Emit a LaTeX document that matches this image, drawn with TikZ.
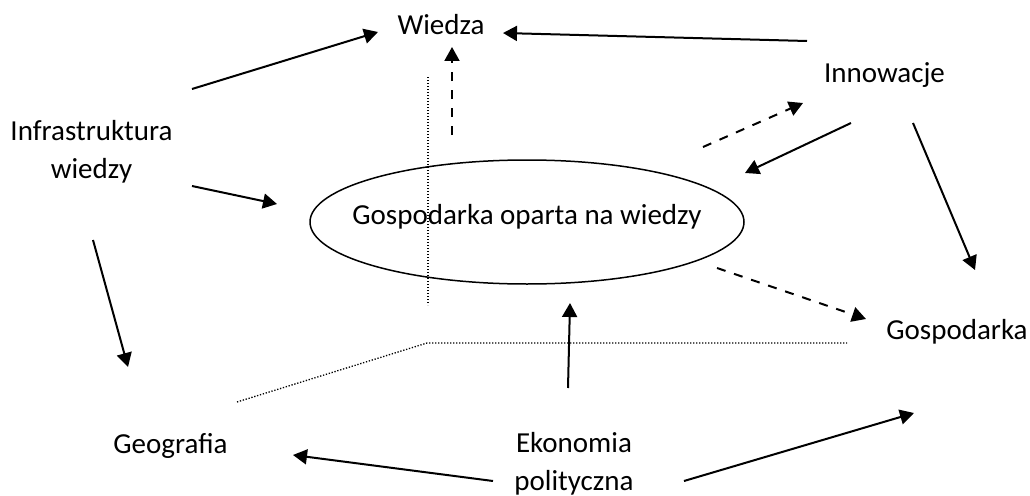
\documentclass[tikz,border=0pt]{standalone}
\usepackage{fontspec}
\setmainfont{Carlito}
\usetikzlibrary{arrows.meta,shapes.geometric}
\begin{document}
\begin{tikzpicture}[x=1pt,y=-1pt,
  lab/.style={font=\fontsize{29}{38}\selectfont, inner sep=0pt, anchor=base, align=center},
  solidarrow/.style={line width=2pt, -{Triangle[length=14pt,width=15pt]}},
  dasharrow/.style={line width=2pt, dash pattern=on 9pt off 9pt, -{Triangle[length=14pt,width=15pt]}},
  dotline/.style={line width=1.3pt, dash pattern=on 1.3pt off 1.7pt},
  ellipsebox/.style={draw, line width=1.5pt, ellipse, minimum width=434pt, minimum height=124pt, inner sep=0pt}]
\useasboundingbox (0,0) rectangle (1030,495);
\fill[white] (0,0) rectangle (1030,495);

% nodes (multi-line nodes: base = baseline of last line)
\node[lab] (wiedza) at (441,35) {Wiedza};
\node[lab] (innow) at (884.5,82) {Innowacje};
\node[lab] (infra) at (91.5,178) {Infrastruktura\\wiedzy};
\node[ellipsebox] (ell) at (527,222) {};
\node[lab] (gow) at (527,224) {Gospodarka oparta na wiedzy};
\node[lab] (gosp) at (957,339) {Gospodarka};
\node[lab] (geo) at (170.5,453) {Geografia};
\node[lab] (ekon) at (574,490) {Ekonomia\\polityczna};

% dotted frame
\coordinate (v1) at (428,77);
\coordinate (v2) at (428,305);
\coordinate (d1) at (237,402);
\coordinate (d2) at (427,343);
\coordinate (d3) at (847,343);
\draw[dotline] (v1) -- (v2);
\draw[dotline] (d1) -- (d2) -- (d3);

% arrow end points
\coordinate (a1s) at (192,89);   \coordinate (a1e) at (378,32);
\coordinate (a2s) at (807,41);   \coordinate (a2e) at (503,33);
\coordinate (a3s) at (452,135);  \coordinate (a3e) at (452,47);
\coordinate (a4s) at (192,186);  \coordinate (a4e) at (277,204);
\coordinate (a5s) at (93,240);   \coordinate (a5e) at (128,367);
\coordinate (a6s) at (703,147);  \coordinate (a6e) at (803,103);
\coordinate (a7s) at (851,123);  \coordinate (a7e) at (745,173);
\coordinate (a8s) at (913,123);  \coordinate (a8e) at (975,270);
\coordinate (a9s) at (717,268);  \coordinate (a9e) at (866,319);
\coordinate (a10s) at (568,388); \coordinate (a10e) at (570,303);
\coordinate (a11s) at (493,481); \coordinate (a11e) at (293,455);
\coordinate (a12s) at (684,481); \coordinate (a12e) at (914,413);

\draw[solidarrow] (a1s) -- (a1e);
\draw[solidarrow] (a2s) -- (a2e);
\draw[dasharrow] (a3s) -- (a3e);
\draw[solidarrow] (a4s) -- (a4e);
\draw[solidarrow] (a5s) -- (a5e);
\draw[dasharrow] (a6s) -- (a6e);
\draw[solidarrow] (a7s) -- (a7e);
\draw[solidarrow] (a8s) -- (a8e);
\draw[dasharrow] (a9s) -- (a9e);
\draw[solidarrow] (a10s) -- (a10e);
\draw[solidarrow] (a11s) -- (a11e);
\draw[solidarrow] (a12s) -- (a12e);
\end{tikzpicture}
\end{document}
